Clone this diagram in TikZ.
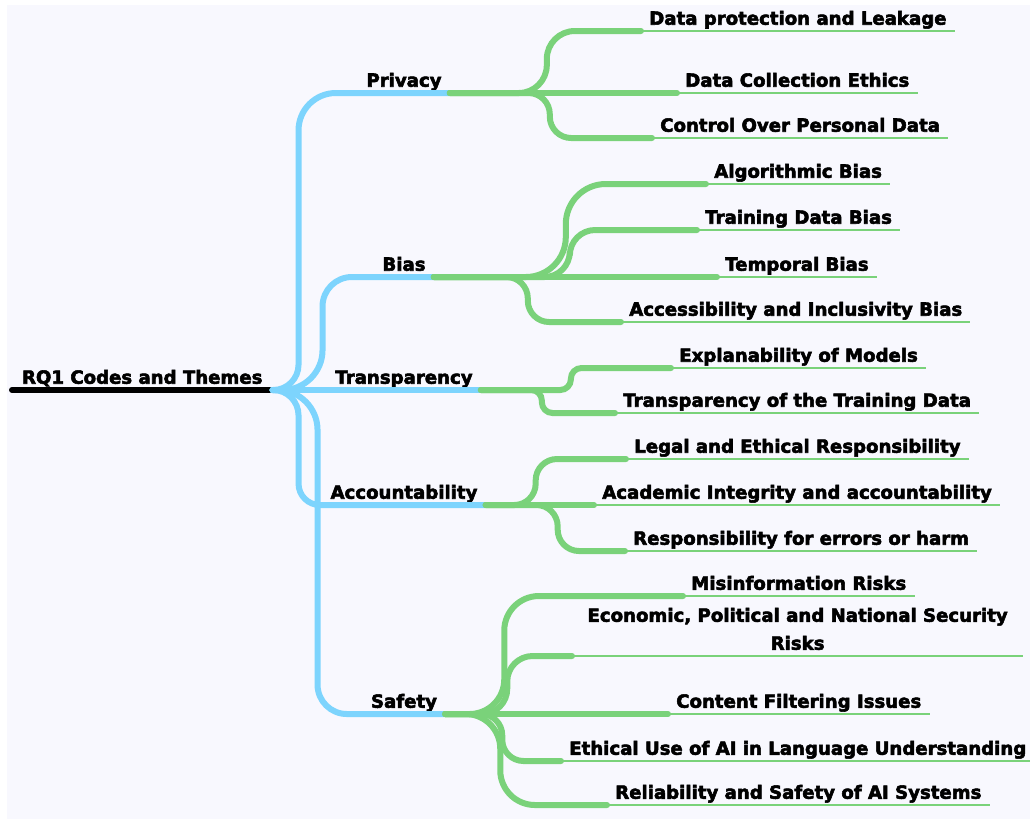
\documentclass[tikz,border=0pt]{standalone}
\usepackage{fontspec}
\setmainfont{DejaVu Sans}[BoldFeatures={FakeBold=3}]
\definecolor{paper}{RGB}{248,248,254}
\definecolor{skyline}{RGB}{125,212,253}
\definecolor{leafgreen}{RGB}{122,210,122}
\tikzset{
  label font/.style={font=\bfseries\fontsize{13.6}{16}\selectfont},
  rootnode/.style={label font, anchor=south west, inner xsep=0pt, inner ysep=1.5pt,
    text depth=3pt, minimum width=195pt},
  theme/.style={label font, anchor=south, inner xsep=6pt, inner ysep=1.5pt, text depth=3pt},
  code/.style={label font, anchor=south west, inner xsep=6pt, inner ysep=1.5pt, text depth=3pt},
  trunk/.style={draw=black, line width=4.5pt, line cap=round},
  bough/.style={draw=skyline, line width=4.5pt, line cap=round},
  twig/.style={draw=leafgreen, line width=4.5pt, line cap=round},
  vein/.style={draw=leafgreen, line width=1.5pt},
}
\begin{document}
\begin{tikzpicture}[x=0.75pt,y=0.75pt,yscale=-1,xscale=1]
\useasboundingbox (0,0) rectangle (1030,819);
\fill[white] (0,0) rectangle (1030,819);
\fill[paper] (7,5) rectangle (1030,819);

% Root
\node[rootnode] (rq) at (12,390) {RQ1 Codes and Themes};

% Themes
\node[theme] (priv) at (404,93) {Privacy};
\node[theme] (bias) at (404,277) {Bias};
\node[theme] (trans) at (404,390) {Transparency};
\node[theme] (acct) at (404,505) {Accountability};
\node[theme] (safe) at (404,714) {Safety};

% Codes
\node[code] (dpl) at (641,31) {Data protection and Leakage};
\node[code] (dce) at (677,93) {Data Collection Ethics};
\node[code] (cpd) at (652,138) {Control Over Personal Data};
\node[code] (alg) at (706,184) {Algorithmic Bias};
\node[code] (tdb) at (697,230) {Training Data Bias};
\node[code] (tmp) at (717,277) {Temporal Bias};
\node[code] (aib) at (621,322) {Accessibility and Inclusivity Bias};
\node[code] (exm) at (671,368) {Explanability of Models};
\node[code] (ttd) at (615,413) {Transparency of the Training Data};
\node[code] (ler) at (626,459) {Legal and Ethical Responsibility};
\node[code] (aia) at (594,505) {Academic Integrity and accountability};
\node[code] (rfe) at (625,551) {Responsibility for errors or harm};
\node[code] (mir) at (683,596) {Misinformation Risks};
\node[code, align=center, minimum width=338pt] (enr) at (572,656)
  {Economic, Political and National Security\\[5pt] Risks};
\node[code] (cfi) at (668,714) {Content Filtering Issues};
\node[code] (eua) at (561,761) {Ethical Use of AI in Language Understanding};
\node[code] (rsa) at (607,805) {Reliability and Safety of AI Systems};

% underlines
\foreach \c in {dpl,dce,cpd,alg,tdb,tmp,aib,exm,ttd,ler,aia,rfe,mir,enr,cfi,eua,rsa}
  \draw[vein] (\c.south west) -- (\c.south east);

% root to themes
\draw[trunk] (rq.south west) -- (rq.south east);
\draw[bough] (rq.south east) [rounded corners=19pt] -- ++(26,0) [rounded corners=28pt] |- (priv.south east);
\draw[bough] (rq.south east) [rounded corners=30pt] -- ++(50,0) [rounded corners=22pt] |- (bias.south east);
\draw[bough] (rq.south east) -- (trans.south east);
\draw[bough] (rq.south east) [rounded corners=19pt] -- ++(26,0) [rounded corners=16pt] |- (acct.south east);
\draw[bough] (rq.south east) [rounded corners=30pt] -- ++(45,0) [rounded corners=22pt] |- (safe.south east);

% themes to codes
\draw[twig, rounded corners=21pt] (priv.south east) -- ++(97,0) |- (dpl.south west);
\draw[twig] (priv.south east) -- (dce.south west);
\draw[twig, rounded corners=16pt] (priv.south east) -- ++(100,0) |- (cpd.south west);

\draw[twig, rounded corners=30pt] (bias.south east) -- ++(132,0) |- (alg.south west);
\draw[twig, rounded corners=19pt] (bias.south east) -- ++(136,0) |- (tdb.south west);
\draw[twig] (bias.south east) -- (tmp.south west);
\draw[twig, rounded corners=16pt] (bias.south east) -- ++(94,0) |- (aib.south west);

\draw[twig, rounded corners=8pt] (trans.south east) -- ++(90,0) |- (exm.south west);
\draw[twig, rounded corners=8pt] (trans.south east) -- ++(61,0) |- (ttd.south west);

\draw[twig, rounded corners=16pt] (acct.south east) -- ++(50,0) |- (ler.south west);
\draw[twig] (acct.south east) -- (aia.south west);
\draw[twig, rounded corners=16pt] (acct.south east) -- ++(72,0) |- (rfe.south west);

\draw[twig, rounded corners=26pt] (safe.south east) -- ++(59,0) |- (mir.south west);
\draw[twig, rounded corners=19pt] (safe.south east) -- ++(62,0) |- (enr.south west);
\draw[twig] (safe.south east) -- (cfi.south west);
\draw[twig, rounded corners=16pt] (safe.south east) -- ++(57,0) |- (eua.south west);
\draw[twig, rounded corners=26pt] (safe.south east) -- ++(55,0) |- (rsa.south west);
\end{tikzpicture}
\end{document}
